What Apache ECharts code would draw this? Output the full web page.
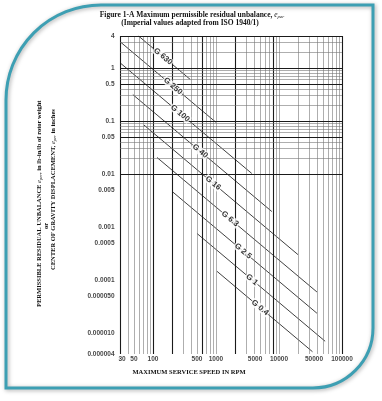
<!DOCTYPE html>
<html><head><meta charset="utf-8">
<script src="https://cdn.jsdelivr.net/npm/echarts@6/dist/echarts.min.js"></script>
<style>html,body{margin:0;padding:0;background:#fff}#c{width:382px;height:401px}</style>
</head><body><div id="c"></div>
<script>
// ---- data ----
const grades = ['G 630','G 250','G 100','G 40','G 16','G 6.3','G 2.5','G 1','G 0.4'];
const startSpeed = [59, 30, 30, 48, 72, 116, 208, 500, 1040];
const startEcc = [4.0, 3.13, 1.25, 0.313, 0.0836, 0.0204, 0.00452, 0.000752, 0.000145];
const endSpeed = [390, 1000, 3700, 7700, 20000, 40000, 40000, 54000, 34000];
const endEcc = [0.607, 0.094, 0.0102, 0.00195, 0.0003, 0.0000592, 0.0000235, 0.00000696, 0.00000442];
const labelSpeed = [144, 208, 270, 560, 900, 1670, 2690, 3720, 5000];
const labelEcc = [1.645, 0.452, 0.139, 0.0269, 0.0067, 0.00142, 0.00035, 0.000101, 0.00003];
const xTickValues = [30, 50, 100, 500, 1000, 5000, 10000, 50000, 100000];
const xTickLabels = ['30','50','100','500','1000','5000','10000','50000','100000'];
const yTickValues = [4, 1, 0.5, 0.1, 0.05, 0.01, 0.005, 0.001, 0.0005, 0.0001, 0.00005, 0.00001, 0.000004];
const yTickLabels = ['4','1','0.5','0.1','0.05','0.01','0.005','0.001','0.0005','0.0001','0.000050','0.000010','0.000004'];
const xGridValues = [30,40,50,60,70,80,90,100,200,300,400,500,600,700,800,900,1000,2000,3000,4000,5000,6000,7000,8000,9000,10000,20000,30000,40000,50000,60000,70000,80000,90000,100000];
const xGridBold = [30,100,200,600,2000,8000,100000];
const yGridValues = [4,3,2,1,0.9,0.8,0.7,0.6,0.5,0.4,0.3,0.2,0.1,0.09,0.08,0.07,0.06,0.05,0.04,0.03,0.02,0.01,0.009,0.008,0.007,0.006,0.005,0.004,0.003,0.002,0.001,0.0009,0.0008,0.0007,0.0006,0.0005,0.0004,0.0003,0.0002,0.0001,0.00009,0.00008,0.00007,0.00006,0.00005,0.00004,0.00003,0.00002,0.00001,0.000009,0.000008,0.000007,0.000006,0.000005,0.000004];
const yGridBold = [4,1,0.5,0.1,0.05,0.01,0.005,0.001,0.0005,0.0001,0.00005,0.00001,0.000004];
const X_MIN = 30, X_MAX = 100000, Y_MIN = 0.000004, Y_MAX = 4;

// ---- styles ----
const sans = "'Liberation Sans', Arial, sans-serif";
const serif = "'Liberation Serif', 'Times New Roman', serif";
const minorStyle = {color: '#777', width: 0.6, type: 'solid'};
const boldStyle = {color: '#1a1a1a', width: 1.1, type: 'solid'};
const xLabelNudge = {30: 2, 5000: -5, 50000: -9};

const gridMarks = [];
xGridValues.forEach(v => gridMarks.push({xAxis: v, lineStyle: xGridBold.includes(v) ? boldStyle : minorStyle}));
yGridValues.forEach(v => gridMarks.push({yAxis: v, lineStyle: yGridBold.includes(v) ? boldStyle : minorStyle}));

const series = [];
series.push({
  type: 'line', data: [[X_MIN, Y_MIN]], showSymbol: false, symbol: 'none', z: 1, silent: true,
  markLine: {silent: true, symbol: ['none','none'], label: {show: false}, animation: false, data: gridMarks}
});
grades.forEach((g, i) => {
  series.push({
    type: 'line', name: g, symbol: 'none', z: 3, silent: true,
    lineStyle: {color: '#2a2a2a', width: 0.9},
    data: [[startSpeed[i], startEcc[i]], [endSpeed[i], endEcc[i]]]
  });
});
series.push({
  type: 'scatter', z: 5, silent: true, clip: false, symbolSize: 1, itemStyle: {color: 'rgba(0,0,0,0)'},
  data: grades.map((g, i) => ({name: g, value: [labelSpeed[i], labelEcc[i]]})),
  label: {show: true, position: 'inside', formatter: '{b}', rotate: -40, color: '#000',
    fontFamily: sans, fontWeight: 'bold', fontSize: 8, backgroundColor: '#fff', padding: [0, 1]}
});
series.push({
  type: 'scatter', z: 5, silent: true, clip: false, symbolSize: 1, itemStyle: {color: 'rgba(0,0,0,0)'},
  data: yTickValues.map((v, i) => ({name: yTickLabels[i], value: [X_MIN, v]})),
  label: {show: true, position: 'left', distance: 5, formatter: '{b}', color: '#111',
    fontFamily: sans, fontWeight: 'bold', fontSize: 6.5}
});
series.push({
  type: 'scatter', z: 5, silent: true, clip: false, symbolSize: 1, itemStyle: {color: 'rgba(0,0,0,0)'},
  data: xTickValues.map((v, i) => ({name: xTickLabels[i], value: [v, Y_MIN],
    label: {offset: [xLabelNudge[v] || 0, 0]}})),
  label: {show: true, position: 'bottom', distance: 1, formatter: '{b}', color: '#111',
    fontFamily: sans, fontWeight: 'bold', fontSize: 6.5}
});

const chart = echarts.init(document.getElementById('c'));
chart.setOption({
  animation: false,
  backgroundColor: '#fff',
  grid: {left: 120, top: 36, right: 40, bottom: 47, containLabel: false},
  xAxis: {type: 'log', logBase: 10, min: X_MIN, max: X_MAX, show: false, splitLine: {show: false}},
  yAxis: {type: 'log', logBase: 10, min: Y_MIN, max: Y_MAX, show: false, splitLine: {show: false}},
  graphic: [
    {type: 'rect', silent: true, shape: {x: 6, y: 5, width: 367, height: 383, r: [95, 0, 60, 0]},
     style: {fill: 'none', stroke: '#3d9fb3', lineWidth: 3, shadowBlur: 4, shadowColor: 'rgba(0,0,0,0.35)', shadowOffsetX: 1, shadowOffsetY: 1}},
    {type: 'text', silent: true, x: 192, y: 15,
     style: {text: '{a|Figure 1-A Maximum permissible residual unbalance, }{e|e}{s|per}', textAlign: 'center', textVerticalAlign: 'middle',
       rich: {a: {fontFamily: serif, fontWeight: 'bold', fontSize: 7.5, fill: '#111'},
              e: {fontFamily: serif, fontStyle: 'italic', fontSize: 7.5, fill: '#111'},
              s: {fontFamily: serif, fontStyle: 'italic', fontSize: 5, fill: '#111', padding: [4, 0, 0, 0]}}}},
    {type: 'text', silent: true, x: 190, y: 23,
     style: {text: '(Imperial values adapted from ISO 1940/1)', textAlign: 'center', textVerticalAlign: 'middle',
       fontFamily: serif, fontWeight: 'bold', fontSize: 7.5, fill: '#111'}},
    {type: 'text', silent: true, x: 189, y: 372,
     style: {text: 'MAXIMUM SERVICE SPEED IN RPM', textAlign: 'center', textVerticalAlign: 'middle',
       fontFamily: serif, fontWeight: 'bold', fontSize: 6.5, fill: '#111'}},
    {type: 'text', silent: true, x: 39, y: 307, rotation: Math.PI / 2,
     style: {text: '{a|PERMISSIBLE RESIDUAL UNBALANCE }{e|e}{s|per}{a|, in lb-in/lb of rotor weight}', textAlign: 'left', textVerticalAlign: 'middle',
       rich: {a: {fontFamily: serif, fontWeight: 'bold', fontSize: 6.5, fill: '#111'},
              e: {fontFamily: serif, fontStyle: 'italic', fontSize: 6.5, fill: '#111'},
              s: {fontFamily: serif, fontStyle: 'italic', fontSize: 4.5, fill: '#111', padding: [3, 0, 0, 0]}}}},
    {type: 'text', silent: true, x: 46, y: 226, rotation: Math.PI / 2,
     style: {text: 'or', textAlign: 'center', textVerticalAlign: 'middle',
       fontFamily: serif, fontWeight: 'bold', fontSize: 6.5, fill: '#111'}},
    {type: 'text', silent: true, x: 53, y: 270, rotation: Math.PI / 2,
     style: {text: '{a|CENTER OF GRAVITY DISPLACEMENT, }{e|e}{s|per}{a| in inches}', textAlign: 'left', textVerticalAlign: 'middle',
       rich: {a: {fontFamily: serif, fontWeight: 'bold', fontSize: 6.5, fill: '#111'},
              e: {fontFamily: serif, fontStyle: 'italic', fontSize: 6.5, fill: '#111'},
              s: {fontFamily: serif, fontStyle: 'italic', fontSize: 4.5, fill: '#111', padding: [3, 0, 0, 0]}}}}
  ],
  series: series
});
</script>
</body></html>
